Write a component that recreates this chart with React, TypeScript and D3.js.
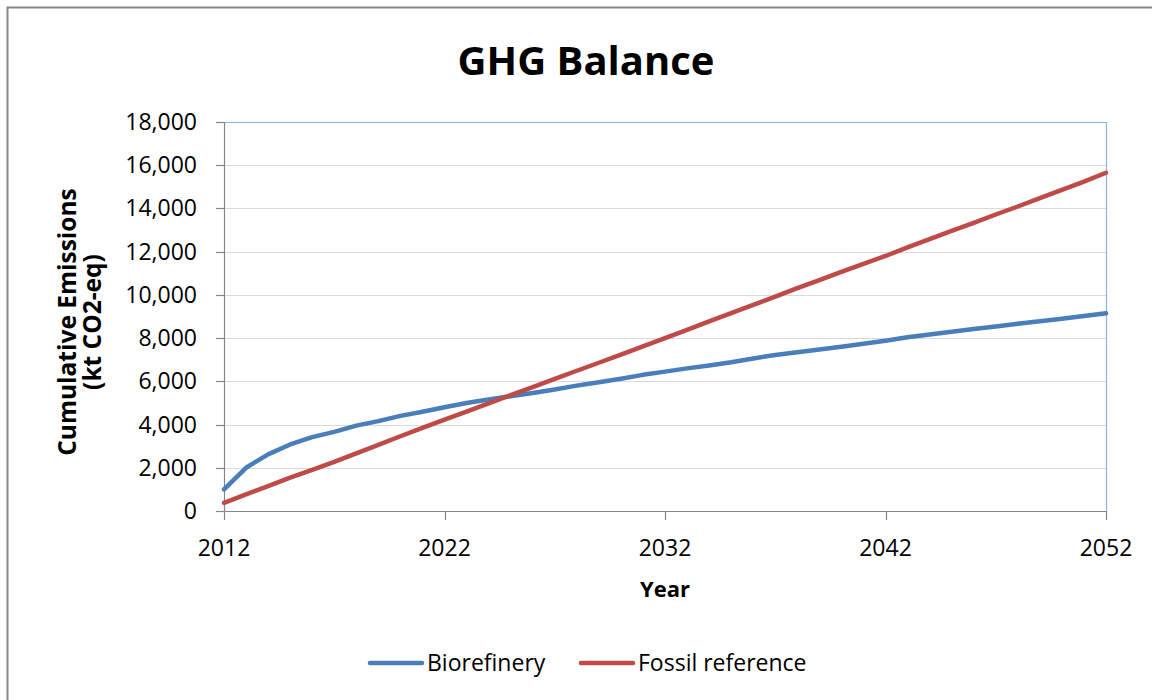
import React from "react";
import * as d3 from "d3";

const years: number[] = d3.range(2012, 2053);
const biorefinery: number[] = [
  1000, 2000, 2620, 3080, 3420, 3660, 3950, 4160, 4400, 4590,
  4800, 5000, 5160, 5310, 5460, 5620, 5800, 5960, 6120, 6300,
  6450, 6600, 6730, 6880, 7060, 7220, 7350, 7470, 7600, 7740,
  7880, 8040, 8170, 8290, 8420, 8540, 8660, 8780, 8900, 9020,
  9150,
];
const fossil: number[] = [
  380, 770, 1150, 1540, 1900, 2270, 2670, 3060, 3460, 3850,
  4230, 4600, 4980, 5360, 5730, 6110, 6490, 6860, 7240, 7620,
  8000, 8380, 8770, 9160, 9540, 9920, 10310, 10680, 11060, 11430,
  11800, 12200, 12580, 12960, 13330, 13720, 14090, 14480, 14860, 15240,
  15650,
];
const yTicks: number[] = d3.range(0, 18001, 2000);
const xTicks: number[] = [2012, 2022, 2032, 2042, 2052];
const seriesNames: string[] = ["Biorefinery", "Fossil reference"];
const seriesColors: string[] = ["#4A7EBB", "#BE4B48"];

const FONT = "'Open Sans', 'DejaVu Sans', sans-serif";

export default function App() {
  const left = 224, right = 1106, top = 122, bottom = 511;
  const x = d3.scaleLinear().domain([2012, 2052]).range([left, right]);
  const y = d3.scaleLinear().domain([0, 18000]).range([bottom, top]);
  const fmt = d3.format(",");
  const line = d3
    .line<[number, number]>()
    .x((d) => x(d[0]))
    .y((d) => y(d[1]));
  const data = [biorefinery, fossil];

  return (
    <svg
      width={1152}
      height={700}
      style={{ position: "absolute", left: 0, top: 0, background: "#fff" }}
    >
      <rect x={0} y={0} width={1152} height={700} fill="#fff" />
      <rect x={7.5} y={7.5} width={1160} height={710} fill="none" stroke="#868686" strokeWidth={2} />
      <text x={586} y={75} textAnchor="middle" fontFamily={FONT} fontWeight="bold" fontSize={40} fill="#000">
        GHG Balance
      </text>
      {yTicks.map((t) => (
        <line key={"g" + t} x1={left} x2={right} y1={Math.round(y(t)) + 0.5} y2={Math.round(y(t)) + 0.5} stroke="#D9D9D9" strokeWidth={1.2} />
      ))}
      <line x1={left} x2={right} y1={top + 0.5} y2={top + 0.5} stroke="#8EB4E3" strokeWidth={1.2} />
      <line x1={right + 0.5} x2={right + 0.5} y1={top} y2={bottom} stroke="#8EB4E3" strokeWidth={1.2} />
      <line x1={left + 0.5} x2={left + 0.5} y1={top} y2={bottom} stroke="#868686" strokeWidth={1.2} />
      <line x1={left} x2={right} y1={bottom + 0.5} y2={bottom + 0.5} stroke="#868686" strokeWidth={1.2} />
      {yTicks.map((t) => (
        <g key={"y" + t}>
          <line x1={left - 8} x2={left} y1={Math.round(y(t)) + 0.5} y2={Math.round(y(t)) + 0.5} stroke="#868686" strokeWidth={1.2} />
          <text x={197} y={y(t) + 8} textAnchor="end" fontFamily={FONT} fontSize={23} fill="#000">
            {fmt(t)}
          </text>
        </g>
      ))}
      {xTicks.map((t) => (
        <g key={"x" + t}>
          <line x1={Math.round(x(t)) + 0.5} x2={Math.round(x(t)) + 0.5} y1={bottom} y2={bottom + 9} stroke="#868686" strokeWidth={1.2} />
          <text x={x(t)} y={556} textAnchor="middle" fontFamily={FONT} fontSize={23} fill="#000">
            {t}
          </text>
        </g>
      ))}
      <text x={665} y={597} textAnchor="middle" fontFamily={FONT} fontWeight="bold" fontSize={22} fill="#000">
        Year
      </text>
      <g transform="translate(76,322) rotate(-90)">
        <text x={0} y={0} textAnchor="middle" fontFamily={FONT} fontWeight="bold" fontSize={24.5} fill="#000">
          Cumulative Emissions
        </text>
        <text x={0} y={25} textAnchor="middle" fontFamily={FONT} fontWeight="bold" fontSize={24.5} fill="#000">
          (kt CO2-eq)
        </text>
      </g>
      {data.map((vals, i) => (
        <path
          key={seriesNames[i]}
          d={line(years.map((yr, j) => [yr, vals[j]] as [number, number])) || ""}
          fill="none"
          stroke={seriesColors[i]}
          strokeWidth={4.5}
          strokeLinejoin="round"
          strokeLinecap="round"
        />
      ))}
      {seriesNames.map((name, i) => {
        const lx = i === 0 ? 370 : 581;
        return (
          <g key={"lg" + name}>
            <line x1={lx} x2={lx + 52} y1={663} y2={663} stroke={seriesColors[i]} strokeWidth={4.5} strokeLinecap="round" />
            <text x={lx + 57} y={671} fontFamily={FONT} fontSize={23} fill="#000">
              {name}
            </text>
          </g>
        );
      })}
    </svg>
  );
}
